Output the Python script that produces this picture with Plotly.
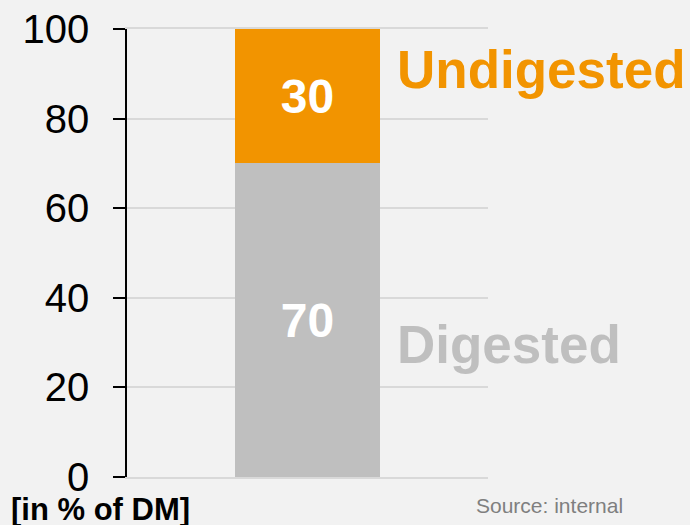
import plotly.graph_objects as go

# Data
category = ["Feed"]
digested = [70]
undigested = [30]
series_names = ["Digested", "Undigested"]
y_ticks = [0, 20, 40, 60, 80, 100]

GREY = "#bfbfbf"
ORANGE = "#f29400"
BG = "#f2f2f2"
GRID = "#d9d9d9"
FONT = "Arial, Liberation Sans, sans-serif"

fig = go.Figure()

fig.add_trace(go.Bar(
    x=category, y=digested, name=series_names[0],
    marker=dict(color=GREY, line=dict(width=0)),
    width=0.4,
    text=[str(v) for v in digested],
    textposition="inside", insidetextanchor="middle", textangle=0,
    textfont=dict(family=FONT, size=48, color="white", weight="bold"),
    hoverinfo="skip",
))
fig.add_trace(go.Bar(
    x=category, y=undigested, name=series_names[1],
    marker=dict(color=ORANGE, line=dict(width=0)),
    width=0.4,
    text=[str(v) for v in undigested],
    textposition="inside", insidetextanchor="middle", textangle=0,
    textfont=dict(family=FONT, size=48, color="white", weight="bold"),
    hoverinfo="skip",
))

# series labels to the right of the bar
fig.add_annotation(
    x=0.743, xref="paper", xanchor="left",
    y=91, yref="y", yanchor="middle",
    text="<b>Undigested</b>", showarrow=False,
    font=dict(family=FONT, size=53, color=ORANGE),
)
fig.add_annotation(
    x=0.743, xref="paper", xanchor="left",
    y=29.5, yref="y", yanchor="middle",
    text="<b>Digested</b>", showarrow=False,
    font=dict(family=FONT, size=53, color=GREY),
)

# unit label and source
fig.add_annotation(
    x=-0.327, xref="paper", xanchor="left",
    y=0, yref="paper", yanchor="middle", yshift=-32,
    text="<b>[in % of DM]</b>", showarrow=False,
    font=dict(family=FONT, size=31, color="black"),
)
fig.add_annotation(
    x=0.96, xref="paper", xanchor="left",
    y=0, yref="paper", yanchor="middle", yshift=-28,
    text="Source: internal", showarrow=False,
    font=dict(family=FONT, size=21, color="#7f7f7f"),
)

fig.update_layout(
    barmode="stack",
    width=690, height=525,
    margin=dict(l=127, r=202, t=29, b=48, autoexpand=False),
    plot_bgcolor=BG, paper_bgcolor=BG,
    showlegend=False,
    bargap=0,
    font=dict(family=FONT, color="black"),
    xaxis=dict(
        showticklabels=False, showgrid=False, zeroline=False,
        showline=True, mirror=True, linecolor=GRID, linewidth=1.5,
        ticks="", range=[-0.5, 0.5], automargin=False,
    ),
    yaxis=dict(
        range=[0, 100], tickvals=y_ticks, automargin=False,
        showline=True, linecolor="black", linewidth=1.5,
        ticks="outside", ticklen=12, tickwidth=1.5, tickcolor="black",
        tickfont=dict(family=FONT, size=40, color="black"),
        ticklabelstandoff=16,
        showgrid=True, gridcolor=GRID, gridwidth=1.5,
        zeroline=False,
    ),
)

fig.write_html(
    "out.html",
    config={"displayModeBar": False},
    post_script="document.body.style.margin='0';",
)
